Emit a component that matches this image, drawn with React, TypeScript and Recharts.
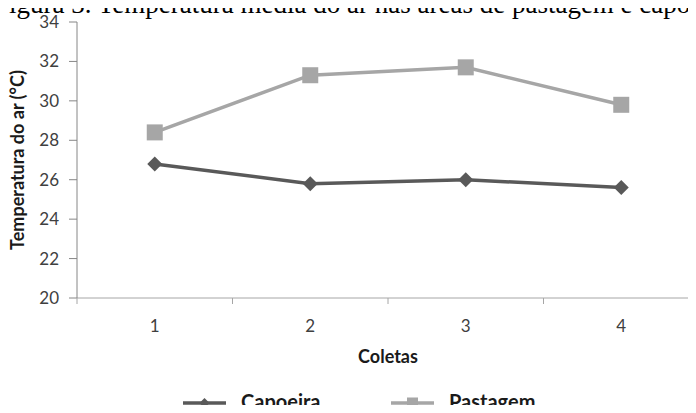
import React from 'react';
import { LineChart, Line, XAxis, YAxis, Legend } from 'recharts';

const coletas = [1, 2, 3, 4];
const capoeira = [26.8, 25.8, 26.0, 25.6];
const pastagem = [28.4, 31.3, 31.7, 29.8];
const yTicks = [20, 22, 24, 26, 28, 30, 32, 34];
// integer ticks carry the labels, half ticks mark the category borders
const xTicks = [0.5, 1, 1.5, 2, 2.5, 3, 3.5, 4, 4.5];

const CAPTION = 'Figura 3. Temperatura média do ar nas áreas de pastagem e capoeira';
const FONT = 'Lato, "Open Sans", sans-serif';
const DARK = '#595959';
const LIGHT = '#a6a6a6';

const data = coletas.map((c, i) => ({ coleta: c, capoeira: capoeira[i], pastagem: pastagem[i] }));

function Diamond({ cx, cy, size = 14, fill }: { cx: number; cy: number; size?: number; fill: string }) {
  const h = size / 2;
  return <path d={`M${cx},${cy - h}L${cx + h},${cy}L${cx},${cy + h}L${cx - h},${cy}Z`} fill={fill} />;
}

function Square({ cx, cy, size = 16, fill }: { cx: number; cy: number; size?: number; fill: string }) {
  return <rect x={cx - size / 2} y={cy - size / 2} width={size} height={size} fill={fill} />;
}

function XTick(props: any) {
  const { x, y, payload } = props;
  if (payload.value % 1 !== 0) {
    return <line x1={x} y1={y} x2={x} y2={y + 6} stroke={LIGHT} strokeWidth={1} />;
  }
  return (
    <text x={x} y={y + 34} textAnchor="middle" fontSize={17} fill="#404040" fontFamily={FONT}>
      {payload.value}
    </text>
  );
}

function LegendContent() {
  const items = [
    { name: 'Capoeira', color: DARK, shape: 'diamond' },
    { name: 'Pastagem', color: LIGHT, shape: 'square' },
  ];
  return (
    <svg width={360} height={24} style={{ display: 'block', overflow: 'visible' }}>
      {items.map((it, i) => {
        const x0 = i * 208;
        return (
          <g key={it.name}>
            <line x1={x0} y1={14} x2={x0 + 43} y2={14} stroke={it.color} strokeWidth={3.5} />
            {it.shape === 'diamond' ? (
              <Diamond cx={x0 + 21.5} cy={14} size={10} fill={it.color} />
            ) : (
              <Square cx={x0 + 21.5} cy={14} size={11} fill={it.color} />
            )}
            <text x={x0 + 58} y={20} fontSize={20} fontWeight={700} fill="#1a1a1a" fontFamily={FONT}>
              {it.name}
            </text>
          </g>
        );
      })}
    </svg>
  );
}

export default function App() {
  return (
    <div style={{ position: 'relative', margin: -8, width: 696, height: 413, overflow: 'hidden', background: '#fff' }}>
      <div
        style={{
          position: 'absolute',
          left: -6,
          top: -9,
          whiteSpace: 'nowrap',
          fontFamily: '"Liberation Serif", "Times New Roman", serif',
          fontSize: 27,
          lineHeight: '27px',
          color: '#000',
        }}
      >
        {CAPTION}
      </div>
      <LineChart width={700} height={413} data={data} margin={{ top: 22, right: 1, left: 0, bottom: 0 }}>
        <XAxis
          dataKey="coleta"
          type="number"
          domain={[0.5, 4.5]}
          ticks={xTicks}
          interval={0}
          tickLine={false}
          tickSize={0}
          tickMargin={0}
          tick={<XTick />}
          axisLine={{ stroke: LIGHT, strokeWidth: 1 }}
          height={91}
          label={({ viewBox }: any) => (
            <text
              x={viewBox.x + viewBox.width / 2}
              y={viewBox.y + 65}
              textAnchor="middle"
              fontSize={18}
              fontWeight={700}
              fill="#1a1a1a"
              fontFamily={FONT}
            >
              Coletas
            </text>
          )}
        />
        <YAxis
          domain={[20, 34]}
          ticks={yTicks}
          interval={0}
          width={77}
          tickSize={8}
          tickMargin={10}
          tickLine={{ stroke: '#868686' }}
          axisLine={{ stroke: '#868686' }}
          tick={{ fontSize: 17, fill: '#404040', fontFamily: FONT }}
          label={({ viewBox }: any) => {
            const x = viewBox.x + 24;
            const y = viewBox.y + viewBox.height / 2;
            return (
              <text
                x={x}
                y={y}
                transform={`rotate(-90 ${x} ${y})`}
                textAnchor="middle"
                fontSize={18}
                fontWeight={700}
                fill="#1a1a1a"
                fontFamily={FONT}
              >
                Temperatura do ar (°C)
              </text>
            );
          }}
        />
        <Legend
          verticalAlign="bottom"
          wrapperStyle={{ left: 183, top: 389, bottom: 'auto', width: 360, height: 24 }}
          content={<LegendContent />}
        />
        <Line
          dataKey="capoeira"
          name="Capoeira"
          stroke={DARK}
          strokeWidth={3.5}
          isAnimationActive={false}
          dot={(p: any) => <Diamond key={`c${p.index}`} cx={p.cx} cy={p.cy} size={15} fill={DARK} />}
          activeDot={false}
        />
        <Line
          dataKey="pastagem"
          name="Pastagem"
          stroke={LIGHT}
          strokeWidth={3.5}
          isAnimationActive={false}
          dot={(p: any) => <Square key={`p${p.index}`} cx={p.cx} cy={p.cy} size={16} fill={LIGHT} />}
          activeDot={false}
        />
      </LineChart>
    </div>
  );
}
